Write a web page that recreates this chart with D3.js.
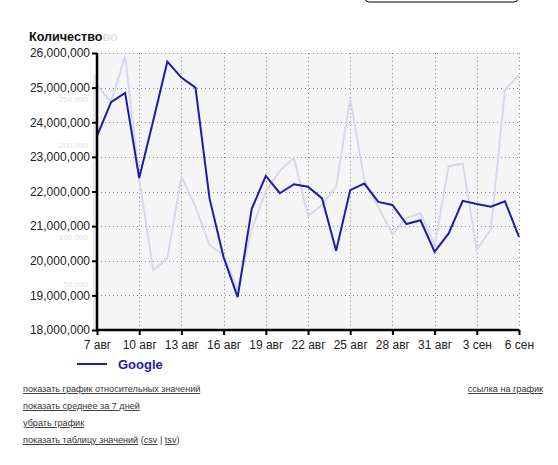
<!DOCTYPE html>
<html>
<head>
<meta charset="utf-8">
<script src="https://cdn.jsdelivr.net/npm/d3@7"></script>
<style>
  body { margin: 0; background: #fff; }
  svg { display: block; font-family: "Liberation Sans", Arial, sans-serif; }
  .link { font-size: 9.1px; fill: #333; }
</style>
</head>
<body>
<div id="chart"></div>
<script>
// days shown on the x axis (7 aug .. 6 sep)
var days = d3.range(31);
var dayLabels = ['7 авг', '10 авг', '13 авг', '16 авг', '19 авг', '22 авг',
    '25 авг', '28 авг', '31 авг', '3 сен', '6 сен'];

// main series, Google
var googleValues = [23600000, 24580000, 24850000, 22390000, 24050000, 25750000,
    25290000, 25000000, 21800000, 20100000, 18950000, 21500000, 22450000,
    21950000, 22210000, 22140000, 21800000, 20290000, 22040000, 22230000,
    21700000, 21610000, 21060000, 21170000, 20260000, 20790000, 21730000,
    21640000, 21560000, 21720000, 20690000];

// faded series left behind from the previous picture
var ghostValues = [264400, 247500, 296300, 163100, 64900, 77600, 166100, 133500,
    91900, 81000, 43100, 108800, 150000, 172500, 186400, 123400, 135400, 155300,
    250900, 162400, 133100, 103900, 121500, 126400, 91900, 177400, 180400, 86600,
    109100, 259900, 276000];

var yTicks = [18000000, 19000000, 20000000, 21000000, 22000000, 23000000,
    24000000, 25000000, 26000000];
var ghostTicks = [50000, 100000, 200000, 250000];

var links = ['показать график относительных значений', 'показать среднее за 7 дней',
    'убрать график'];

var svgWidth = 558;
var svgHeight = 465;
var margin = { top: 53, right: 39, bottom: 135, left: 97 };
var chartWidth = svgWidth - margin.left - margin.right;
var chartHeight = svgHeight - margin.top - margin.bottom;

var svg = d3.select('#chart')
    .append('svg')
    .attr('width', svgWidth)
    .attr('height', svgHeight);

// box peeking in at the top right
svg.append('rect')
    .attr('x', 365).attr('y', -20)
    .attr('width', 153).attr('height', 22)
    .attr('rx', 4)
    .attr('fill', 'none')
    .attr('stroke', '#000');

// title, with the faded tail of the old one
var title = svg.append('text')
    .attr('x', 29).attr('y', 41)
    .attr('font-size', 12.6).attr('font-weight', 'bold');
title.append('tspan').attr('fill', '#111').text('Количество');
title.append('tspan').attr('fill', '#e2e2e2').text('во');

var chartGroup = svg.append('g')
    .attr('transform', `translate(${margin.left}, ${margin.top})`);

var xScale = d3.scaleLinear()
    .domain([0, 30])
    .range([0, chartWidth]);

var yScale = d3.scaleLinear()
    .domain([18000000, 26000000])
    .range([chartHeight, 0]);

var ghostScale = d3.scaleLinear()
    .domain([0, 300000])
    .range([chartHeight, 0]);

// plot background
chartGroup.append('rect')
    .attr('width', chartWidth)
    .attr('height', chartHeight)
    .attr('fill', '#f5f5f5');

// faint band left of the axis
chartGroup.append('rect')
    .attr('x', -4).attr('y', 22)
    .attr('width', 4).attr('height', chartHeight - 22)
    .attr('fill', '#ebebeb');

// ghost axis labels (small so they sit between the real ones)
chartGroup.selectAll('.ghostTick')
    .data(ghostTicks)
    .enter()
    .append('text')
    .attr('class', 'ghostTick')
    .attr('x', -9)
    .attr('y', d => ghostScale(d))
    .attr('dy', '0.35em')
    .attr('text-anchor', 'end')
    .attr('font-size', 8)
    .attr('fill', '#dedede')
    .text(d => d3.format(',')(d));

chartGroup.selectAll('.ghostGrid')
    .data(ghostTicks)
    .enter()
    .append('line')
    .attr('class', 'ghostGrid')
    .attr('x1', -8).attr('x2', chartWidth)
    .attr('y1', d => ghostScale(d)).attr('y2', d => ghostScale(d))
    .attr('stroke', '#ebebeb')
    .attr('stroke-dasharray', '1,3');

// dotted grid
var tickDays = d3.range(0, 31, 3);
chartGroup.selectAll('.vgrid')
    .data(tickDays)
    .enter()
    .append('line')
    .attr('class', 'vgrid')
    .attr('x1', d => Math.round(xScale(d)) + 0.5)
    .attr('x2', d => Math.round(xScale(d)) + 0.5)
    .attr('y1', 0).attr('y2', chartHeight)
    .attr('stroke', '#8a8a8a')
    .attr('stroke-dasharray', '1,3');

chartGroup.selectAll('.hgrid')
    .data(yTicks)
    .enter()
    .append('line')
    .attr('class', 'hgrid')
    .attr('x1', 0).attr('x2', chartWidth)
    .attr('y1', d => Math.round(yScale(d)) + 0.5)
    .attr('y2', d => Math.round(yScale(d)) + 0.5)
    .attr('stroke', '#8a8a8a')
    .attr('stroke-dasharray', '1,3');

// lines
var ghostLine = d3.line()
    .x(d => xScale(d))
    .y(d => ghostScale(ghostValues[d]));

chartGroup.append('path')
    .attr('d', ghostLine(days))
    .attr('fill', 'none')
    .attr('stroke', '#d8d8ec')
    .attr('stroke-width', 2);

var googleLine = d3.line()
    .x(d => xScale(d))
    .y(d => yScale(googleValues[d]));

chartGroup.append('path')
    .attr('d', googleLine(days))
    .attr('fill', 'none')
    .attr('stroke', '#1c1ca8')
    .attr('stroke-width', 2);

// axes
var leftAxis = d3.axisLeft(yScale)
    .tickValues(yTicks)
    .tickSize(5)
    .tickPadding(2)
    .tickFormat(d3.format(','));

var bottomAxis = d3.axisBottom(xScale)
    .tickValues(tickDays)
    .tickSize(5)
    .tickPadding(5)
    .tickFormat((d, i) => dayLabels[i]);

var yAxisGroup = chartGroup.append('g').call(leftAxis);
var xAxisGroup = chartGroup.append('g')
    .attr('transform', `translate(0, ${chartHeight})`)
    .call(bottomAxis);

[yAxisGroup, xAxisGroup].forEach(g => {
    g.select('.domain').attr('stroke', '#000').attr('stroke-width', 2.5);
    g.selectAll('.tick line').attr('stroke', '#000').attr('stroke-width', 2);
    g.selectAll('.tick text')
        .attr('font-size', 12)
        .attr('font-family', '"Liberation Sans", Arial, sans-serif')
        .attr('fill', '#222');
});
yAxisGroup.select('.domain').attr('d', `M0,0V${chartHeight}`);
xAxisGroup.select('.domain').attr('d', `M0,0H${chartWidth}`);

// legend
var legend = svg.append('g').attr('transform', 'translate(77, 364)');
legend.append('line')
    .attr('x1', 0).attr('x2', 30)
    .attr('stroke', '#1c1ca8')
    .attr('stroke-width', 2);
legend.append('text')
    .attr('x', 41).attr('y', 5)
    .attr('font-size', 13).attr('font-weight', 'bold')
    .attr('fill', '#1c1ca8')
    .text('Google');

// links under the chart
var linkGroup = svg.append('g');
linkGroup.selectAll('.mainLink')
    .data(links)
    .enter()
    .append('text')
    .attr('class', 'link')
    .attr('x', 23)
    .attr('y', (d, i) => 392 + i * 17)
    .attr('text-decoration', 'underline')
    .text(d => d);

var tableLink = linkGroup.append('text')
    .attr('class', 'link')
    .attr('x', 23)
    .attr('y', 392 + 3 * 17);
tableLink.append('tspan').attr('text-decoration', 'underline').text('показать таблицу значений');
tableLink.append('tspan').text(' (');
tableLink.append('tspan').attr('text-decoration', 'underline').text('csv');
tableLink.append('tspan').text(' | ');
tableLink.append('tspan').attr('text-decoration', 'underline').text('tsv');
tableLink.append('tspan').text(')');

svg.append('text')
    .attr('class', 'link')
    .attr('x', 543)
    .attr('y', 392)
    .attr('text-anchor', 'end')
    .attr('text-decoration', 'underline')
    .text('ссылка на график');
</script>
</body>
</html>
